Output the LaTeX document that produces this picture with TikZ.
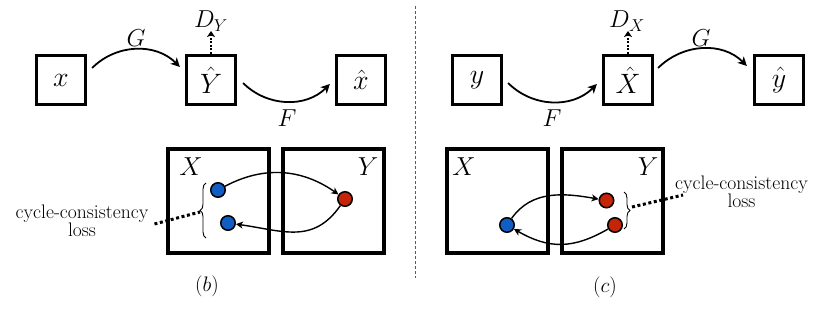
\RequirePackage{fix-cm}
\documentclass[tikz,border=0pt]{standalone}
\usetikzlibrary{arrows.meta,calc,decorations.pathreplacing}
\definecolor{cblue}{RGB}{16,94,196}
\definecolor{cred}{RGB}{196,36,8}
\definecolor{cdiv}{RGB}{90,90,90}
\tikzset{
  topbox/.style={draw, line width=3.2pt, minimum size=49pt, inner sep=0pt, font=\fontsize{28}{30}\selectfont},
  setbox/.style={draw, line width=3.6pt, minimum width=101pt, minimum height=104pt, inner sep=0pt},
  mlab/.style={inner sep=0pt, font=\fontsize{24.5}{27}\selectfont},
  setlab/.style={inner sep=0pt, font=\fontsize{26}{28}\selectfont},
  sublab/.style={inner sep=0pt, font=\fontsize{21}{24}\selectfont},
  losslab/.style={inner sep=0pt, align=center, font=\fontsize{19.6}{18.5}\selectfont},
  dotb/.style={circle, draw, line width=1.5pt, fill=cblue, minimum size=14.5pt, inner sep=0pt},
  dotr/.style={circle, draw, line width=1.5pt, fill=cred, minimum size=14.5pt, inner sep=0pt},
  bigarrow/.style={-{Stealth[length=9pt,width=9pt,inset=2.5pt]}, line width=1.8pt},
  smallarrow/.style={-{Stealth[length=7pt,width=7pt,inset=2pt]}, line width=1.4pt},
  dline/.style={line width=2.5pt, dash pattern=on 2pt off 1.6pt, -{Stealth[length=6pt,width=8pt,inset=1.5pt]}},
  lossline/.style={line width=3pt, dash pattern=on 3pt off 2.6pt},
  bracel/.style={decorate, decoration={brace, amplitude=6pt}, line width=0.9pt},
  divider/.style={draw=cdiv, line width=1pt, dash pattern=on 3pt off 2pt}
}
\begin{document}
\begin{tikzpicture}[x=1pt,y=1pt]
\useasboundingbox (0,0) rectangle (825,309);

% divider
\coordinate (dvt) at (415,303);
\coordinate (dvb) at (415,31);
\draw[divider] (dvt) -- (dvb);

% ---------- panel (b) top ----------
\node[topbox] (bx) at (61,229) {$x$};
\node[topbox] (bYh) at (211,229) {$\hat{Y}$};
\node[topbox] (bxh) at (361,229) {$\hat{x}$};
\draw[bigarrow] ($(bx.east)+(5,12)$) to[out=45,in=135] ($(bYh.west)+(-5,13)$);
\draw[bigarrow] ($(bYh.east)+(6,-3)$) to[out=-45,in=-135] ($(bxh.west)+(-5,-4)$);
\node[mlab] (lG1) at (136,271) {$G$};
\node[mlab] (lF1) at (287,191) {$F$};
\coordinate (DYtip) at (211,278);
\draw[dline] (bYh.north) -- (DYtip);
\node[mlab] (lDY) at (211,288) {$D_Y$};

% ---------- panel (c) top ----------
\node[topbox] (by) at (477,229) {$y$};
\node[topbox] (bXh) at (628,229) {$\hat{X}$};
\node[topbox] (byh) at (779,229) {$\hat{y}$};
\draw[bigarrow] ($(by.east)+(5,-3)$) to[out=-45,in=-135] ($(bXh.west)+(-5,-4)$);
\draw[bigarrow] ($(bXh.east)+(4,12)$) to[out=45,in=135] ($(byh.west)+(-6,14)$);
\node[mlab] (lF2) at (552,191) {$F$};
\node[mlab] (lG2) at (701,271) {$G$};
\coordinate (DXtip) at (628,278);
\draw[dline] (bXh.north) -- (DXtip);
\node[mlab] (lDX) at (627,288) {$D_X$};

% ---------- panel (b) bottom ----------
\node[setbox] (sX1) at (218.5,108) {};
\node[setbox] (sY1) at (333.5,108) {};
\node[setlab] (lX1) at (191,142.5) {$X$};
\node[setlab] (lY1) at (368,142.5) {$Y$};
\node[dotb] (b1) at (218,119) {};
\node[dotb] (b2) at (228,86) {};
\node[dotr] (r1) at (345,110) {};
\draw[smallarrow] (b1) to[out=28,in=145] (r1);
\draw[smallarrow] (r1) to[out=-125,in=-8,looseness=1.15] (b2);
\draw[bracel] (206,71) -- (206,126);
\coordinate (tipL) at (200,97);
\node[losslab] (cl) at (82,88) {cycle-consistency\\loss};
\draw[lossline] ($(cl.east)+(6,-3)$) -- (tipL);
\node[sublab] (capb) at (207,23) {$(b)$};

% ---------- panel (c) bottom ----------
\node[setbox] (sX2) at (497.5,108) {};
\node[setbox] (sY2) at (612.5,108) {};
\node[setlab] (lX2) at (464,142.5) {$X$};
\node[setlab] (lY2) at (648,142.5) {$Y$};
\node[dotb] (b3) at (507,84) {};
\node[dotr] (r2) at (606.5,108.5) {};
\node[dotr] (r3) at (615,84) {};
\draw[smallarrow] (b3) to[out=55,in=170] (r2);
\draw[smallarrow] (r3) to[out=-150,in=-30,looseness=1.1] (b3);
\draw[bracel] (624,117) -- (624,80);
\coordinate (tipR) at (632,102);
\node[losslab] (cr) at (741.5,117) {cycle-consistency\\loss};
\draw[lossline] (tipR) -- ($(cr.west)+(8,-3)$);
\node[sublab] (capc) at (605,21.5) {$(c)$};
\end{tikzpicture}
\end{document}
